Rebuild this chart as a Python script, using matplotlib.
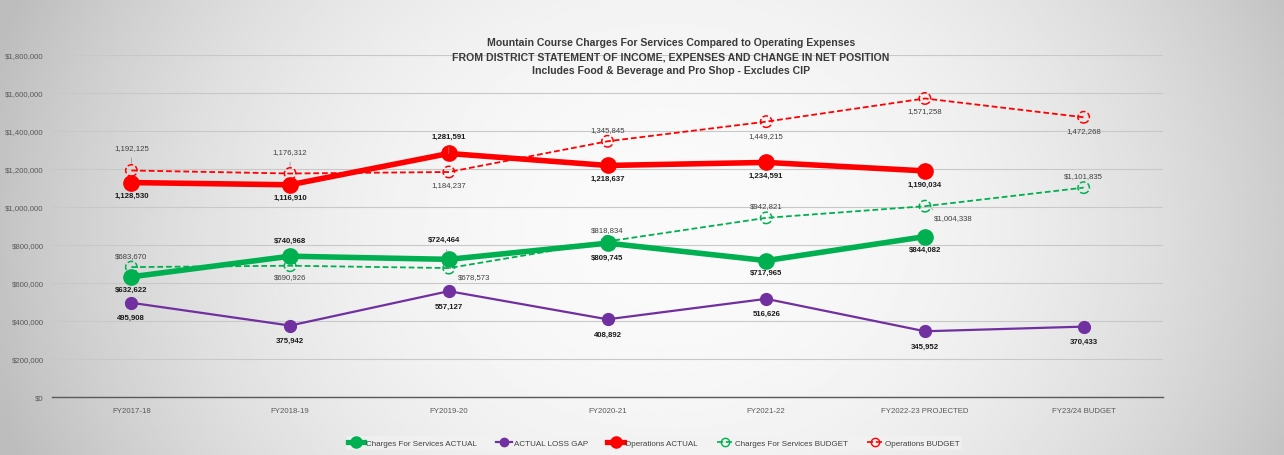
import matplotlib.pyplot as plt
from matplotlib.lines import Line2D
from matplotlib.ticker import FuncFormatter
import numpy as np

plt.rcParams['font.family'] = ['Liberation Sans Narrow', 'Liberation Sans', 'DejaVu Sans']

years = ['FY2017-18', 'FY2018-19', 'FY2019-20', 'FY2020-21', 'FY2021-22',
         'FY2022-23 PROJECTED', 'FY23/24 BUDGET']
charges_actual = [632622, 740968, 724464, 809745, 717965, 844082]
loss_gap = [495908, 375942, 557127, 408892, 516626, 345952, 370433]
ops_actual = [1128530, 1116910, 1281591, 1218637, 1234591, 1190034]
charges_budget = [683670, 690926, 678573, 818834, 942821, 1004338, 1101835]
ops_budget = [1192125, 1176312, 1184237, 1345845, 1449215, 1571258, 1472268]

GREEN = '#00B050'
PURPLE = '#7030A0'
RED = '#FF0000'

fig = plt.figure(figsize=(12.84, 4.56), dpi=100)

# radial grey background like the excel chart area
bg = fig.add_axes([0, 0, 1, 1], zorder=-10)
yy, xx = np.mgrid[0:1:200j, 0:1:400j]
r = np.sqrt(((xx - 0.52) / 0.55) ** 2 + ((yy - 0.5) / 1.3) ** 2)
shade = 0.98 - 0.24 * np.clip(r, 0, 1) ** 2.2
bg.imshow(shade, cmap='gray', vmin=0, vmax=1, extent=[0, 1, 0, 1], aspect='auto')
bg.axis('off')

ax = fig.add_axes([52 / 1284, 58 / 456, 1111 / 1284, 342 / 456])
ax.set_facecolor('none')
x = np.arange(len(years))

# lines
ax.plot(x, ops_budget, color=RED, lw=1.3, ls=(0, (3.2, 1.6)), zorder=3)
ax.scatter(x, ops_budget, s=68, facecolors='none', edgecolors=RED, linewidths=1.1,
           linestyles='--', zorder=4)
ax.plot(x, charges_budget, color=GREEN, lw=1.3, ls=(0, (3.2, 1.6)), zorder=3)
ax.scatter(x, charges_budget, s=68, facecolors='none', edgecolors=GREEN, linewidths=1.1,
           linestyles='--', zorder=4)
ax.plot(x[:len(ops_actual)], ops_actual, color=RED, lw=4, marker='o', ms=11, zorder=5)
ax.plot(x[:len(charges_actual)], charges_actual, color=GREEN, lw=4, marker='o', ms=11, zorder=5)
ax.plot(x, loss_gap, color=PURPLE, lw=1.6, marker='o', ms=8.5, zorder=5)


def label(xi, v, text, dx, dy, bold, leader=False):
    ax.annotate(text, (xi, v), xytext=(dx, -dy), textcoords='offset pixels',
                ha='center', va='center', fontsize=5.6,
                fontweight='bold' if bold else 'normal',
                color='#1a1a1a' if bold else '#404040', zorder=6,
                arrowprops=dict(arrowstyle='-', color='#8c8c8c', lw=0.5,
                                shrinkA=3, shrinkB=5) if leader else None)


ca_off = [(0, 13), (0, -16), (-5, -20), (0, 14), (0, 12), (0, 13)]
for i, v in enumerate(charges_actual):
    label(i, v, '${:,}'.format(v), ca_off[i][0], ca_off[i][1], True, i == 2)

for i, v in enumerate(loss_gap):
    label(i, v, '{:,}'.format(v), 0, 15, True)

oa_off = [(0, 13), (0, 13), (0, -17), (0, 13), (0, 13), (0, 13)]
for i, v in enumerate(ops_actual):
    label(i, v, '{:,}'.format(v), oa_off[i][0], oa_off[i][1], True, i == 2)

cb_off = [(0, -12), (0, 11), (25, 8), (0, -12), (0, -12), (28, 11), (0, -12)]
for i, v in enumerate(charges_budget):
    label(i, v, '${:,}'.format(v), cb_off[i][0], cb_off[i][1], False, i in (2, 5))

ob_off = [(0, -23), (0, -22), (0, 13), (0, -12), (0, 14), (0, 12), (0, 13)]
for i, v in enumerate(ops_budget):
    label(i, v, '{:,}'.format(v), ob_off[i][0], ob_off[i][1], False, i in (0, 1))

ax.set_xlim(-0.5, len(years) - 0.5)
ax.set_ylim(0, 1800000)
ax.set_yticks(np.arange(0, 1800001, 200000))
ax.yaxis.set_major_formatter(FuncFormatter(lambda v, p: '${:,.0f}'.format(v)))
ax.set_xticks(x)
ax.set_xticklabels(years)
ax.tick_params(length=0, labelsize=5.6, colors='#595959')
ax.tick_params(axis='x', pad=7)
ax.tick_params(axis='y', pad=6)
ax.grid(axis='y', color='#c8c8c8', lw=0.8)
ax.set_axisbelow(True)
for s in ['top', 'right', 'left']:
    ax.spines[s].set_visible(False)
ax.spines['bottom'].set_color('#595959')
ax.spines['bottom'].set_linewidth(1.0)

fig.text(671 / 1284, 1 - 57 / 456,
         'Mountain Course Charges For Services Compared to Operating Expenses\n'
         'FROM DISTRICT STATEMENT OF INCOME, EXPENSES AND CHANGE IN NET POSITION\n'
         'Includes Food & Beverage and Pro Shop - Excludes CIP',
         ha='center', va='center', fontsize=7.6, fontweight='bold', color='#3a3a3a',
         linespacing=1.45)

handles = [
    Line2D([], [], color=GREEN, lw=3.8, marker='o', ms=8),
    Line2D([], [], color=PURPLE, lw=1.6, marker='o', ms=6),
    Line2D([], [], color=RED, lw=3.8, marker='o', ms=8),
    Line2D([], [], color=GREEN, lw=1.2, ls='--', marker='o', ms=6, mfc='none'),
    Line2D([], [], color=RED, lw=1.2, ls='--', marker='o', ms=6, mfc='none'),
]
names = ['Charges For Services ACTUAL', 'ACTUAL LOSS GAP', 'Operations ACTUAL',
         'Charges For Services BUDGET', 'Operations BUDGET']
leg = fig.legend(handles, names, loc='center', bbox_to_anchor=(654 / 1284, 1 - 444 / 456),
                 ncol=5, fontsize=5.8, frameon=True, handlelength=2.0, handletextpad=0.2,
                 columnspacing=2.4, borderpad=0.35, labelcolor='#404040')
leg.get_frame().set_facecolor('#f2f2f2')
leg.get_frame().set_edgecolor('none')
leg.get_frame().set_alpha(0.7)

plt.savefig('out.png', dpi=100)
